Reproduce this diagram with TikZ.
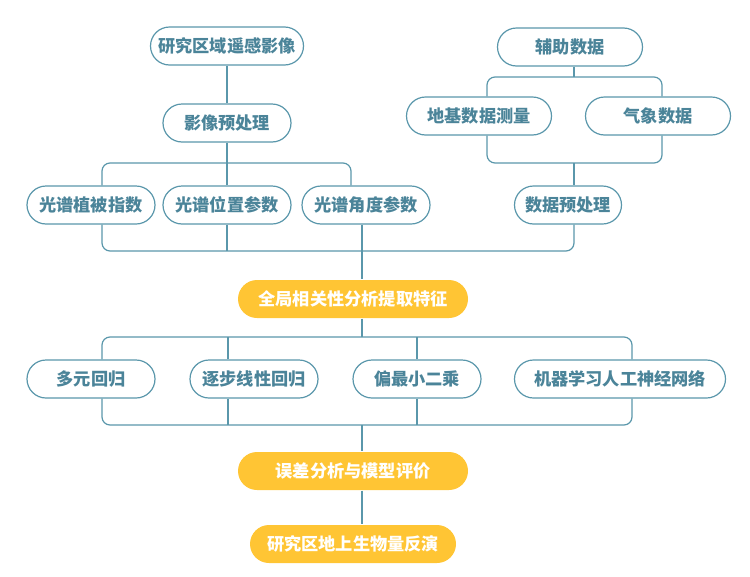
\documentclass[tikz,border=0pt]{standalone}
\usepackage{fontspec}
\usepackage{xcolor}
\usepackage{tikz}
\usetikzlibrary{positioning,calc}
\newfontfamily\cjk{Noto Sans CJK SC}
\definecolor{teal}{HTML}{4B8499}
\definecolor{tealline}{HTML}{5A97AB}
\definecolor{gold}{HTML}{FFC534}

\begin{document}
\begin{tikzpicture}[x=1pt,y=-1pt,
    box/.style={draw=tealline,line width=1.2pt,fill=white,text=teal,
      rounded corners=19pt,minimum height=38pt,minimum width=128pt,
      inner xsep=0pt,font=\cjk\bfseries\fontsize{17.2}{20}\selectfont},
    key/.style={box,draw=none,fill=gold,text=white},
    link/.style={draw=tealline,line width=1.2pt,rounded corners=8pt}]
    \useasboundingbox (0,0) rectangle (750,576);
    % left column
    \node[box,minimum width=153pt] (rs) at (227,46) {研究区域遥感影像};
    \node[box] (pre) at (227,123) {影像预处理};
    \node[box] (vi) at (91,205) {光谱植被指数};
    \node[box] (pos) at (227,205) {光谱位置参数};
    \node[box] (ang) at (366,205) {光谱角度参数};
    % right column
    \node[box,minimum width=145pt] (aux) at (570,47) {辅助数据};
    \node[box,minimum width=145pt] (gnd) at (479,116) {地基数据测量};
    \node[box,minimum width=145pt] (met) at (658,116) {气象数据};
    \node[box,minimum width=107pt] (dpre) at (568,205) {数据预处理};
    % main flow
    \node[key,minimum width=230pt] (feat) at (353,299) {全局相关性分析提取特征};
    \node[box] (mlr) at (91,379) {多元回归};
    \node[box] (swr) at (254,379) {逐步线性回归};
    \node[box] (pls) at (417,379) {偏最小二乘};
    \node[box,minimum width=211pt] (ann) at (620,379) {机器学习人工神经网络};
    \node[key,minimum width=230pt] (eval) at (353,471) {误差分析与模型评价};
    \node[key,minimum width=206pt] (agb) at (353,544) {研究区地上生物量反演};

    \coordinate (b1) at (227,163);
    \coordinate (m1) at (362,251);
    \coordinate (b2) at (574,77);
    \coordinate (m2) at (574,163);
    \coordinate (b3) at (362,337);
    \coordinate (m3) at (362,425);

    % image branch
    \draw[link] (rs) -- (pre);
    \draw[link] (pre) -- (pos);
    \draw[link] ([xshift=11pt]vi.north) |- (b1) -| ([xshift=-15pt]ang.north);
    % auxiliary branch
    \draw[link] (aux.south -| b2) -- (b2);
    \draw[link] ([xshift=8pt]gnd.north) |- (b2) -| ([xshift=4pt]met.north);
    \draw[link] ([xshift=8pt]gnd.south) |- (m2) -| ([xshift=4pt]met.south);
    \draw[link] (m2) -- (dpre.north -| m2);
    % merge into features
    \draw[link] ([xshift=11pt]vi.south) |- (m1) -| ([xshift=6pt]dpre.south);
    \draw[link] (pos) -- (pos.south |- m1);
    \draw[link] (ang.south -| m1) -- (feat.north -| m1);
    % models
    \draw[link] (feat.south -| b3) -- (b3);
    \draw[link] ([xshift=11pt]mlr.north) |- (b3) -| ([xshift=12pt]ann.north);
    \draw[link] ([xshift=11pt]mlr.south) |- (m3) -| ([xshift=12pt]ann.south);
    \draw[link] ([xshift=-26pt]swr.north) -- ([xshift=-26pt]swr.north |- b3);
    \draw[link] ([xshift=-26pt]swr.south) -- ([xshift=-26pt]swr.south |- m3);
    \draw[link] (pls.north) -- (pls.north |- b3);
    \draw[link] (pls.south) -- (pls.south |- m3);
    \draw[link] (m3) -- (eval.north -| m3);
    \draw[link] (eval.south -| m3) -- (agb.north -| m3);
  \end{tikzpicture}
\end{document}
